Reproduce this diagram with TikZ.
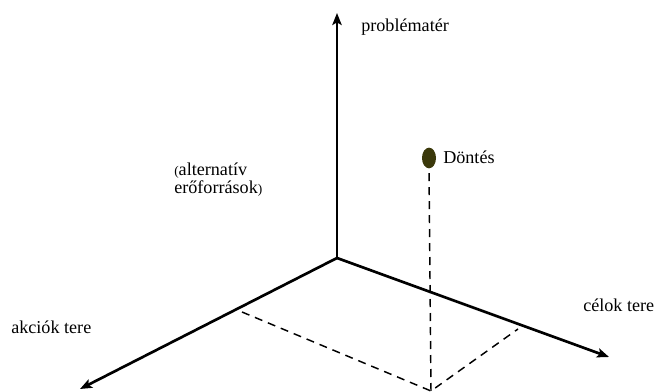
\documentclass[tikz,border=0pt]{standalone}
\usepackage{fontspec}
\setmainfont{Liberation Serif}
\usetikzlibrary{arrows.meta,shapes.geometric}
\begin{document}
\begin{tikzpicture}[x=0.75pt, y=-0.75pt, line join=round, font=\fontsize{13.6}{16}\selectfont,
	axis/.style={line width=2pt, -{Stealth[length=9pt,width=7pt,inset=2pt]}},
	proj/.style={line width=1.1pt, dash pattern=on 6pt off 4.5pt},
	lbl/.style={inner sep=0pt, anchor=west}]
	\useasboundingbox (0,0) rectangle (668,392);
	% tengelyek
	\coordinate (O) at (337,258);
	\coordinate (Zt) at (337,13);
	\coordinate (Bt) at (80,389);
	\coordinate (Jt) at (609,357);
	\draw[axis] (O)--(Zt);
	\draw[axis] (O)--(Bt);
	\draw[axis] (O)--(Jt);
	% vetuletek
	\coordinate (A) at (242,312);
	\coordinate (C) at (518,329);
	\coordinate (P) at (431,391);
	\node[ellipse, fill={rgb,255:red,58;green,56;blue,10}, minimum width=10.5pt, minimum height=15.5pt, inner sep=0pt] (D) at (429,158) {};
	\draw[proj] (A)--(P)--(C);
	\draw[proj] (P)--(D.south);
	% feliratok
	\node[lbl] (pt) at (361,27) {problématér};
	\node[lbl] (dt) at (443,157) {Döntés};
	\node[lbl] (ae1) at (174,171) {{\fontsize{10}{11}\selectfont(}alternatív};
	\node[lbl] (ae2) at (174,189) {erőforrások{\fontsize{10}{11}\selectfont)}};
	\node[lbl] (ak) at (11,327) {akciók tere};
	\node[lbl] (ce) at (583,305) {célok tere};
\end{tikzpicture}
\end{document}
